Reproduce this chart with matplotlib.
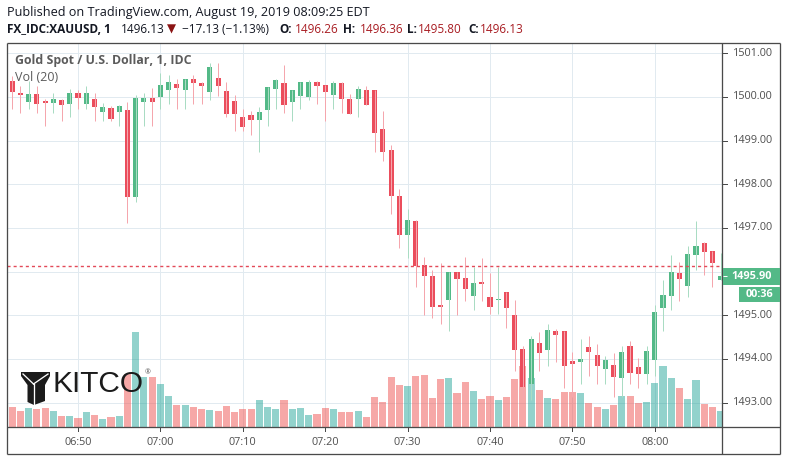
import matplotlib
matplotlib.use("Agg")
import matplotlib.pyplot as plt
from matplotlib.patches import Rectangle, Polygon
from matplotlib.lines import Line2D
from matplotlib.transforms import blended_transform_factory

# ---------------- data (1-minute bars, 06:42 .. 08:08) ----------------
opens = [1500.37, 1500.10, 1499.89, 1500.07, 1499.91, 1499.87, 1499.93, 1499.85, 1500.09, 1499.85,
         1499.95, 1499.66, 1499.75, 1499.66, 1499.70, 1497.72, 1499.89, 1499.98, 1500.01, 1500.15,
         1500.30, 1500.17, 1500.41, 1500.32, 1500.12, 1500.43, 1500.14, 1499.91, 1499.54, 1499.59,
         1499.48, 1499.71, 1500.19, 1500.32, 1499.89, 1500.03, 1500.01, 1500.34, 1500.27, 1500.05,
         1500.32, 1499.95, 1499.96, 1500.16, 1500.16, 1499.27, 1498.79, 1497.73, 1496.85, 1497.16,
         1496.15, 1495.90, 1495.24, 1495.36, 1496.00, 1495.86, 1495.45, 1495.77, 1495.42, 1495.34,
         1495.54, 1495.01, 1494.23, 1493.42, 1494.37, 1494.20, 1494.65, 1494.65, 1493.96, 1493.92,
         1494.28, 1494.10, 1493.76, 1493.87, 1493.56, 1494.30, 1493.82, 1493.65, 1493.97, 1495.16,
         1495.45, 1495.97, 1495.68, 1496.39, 1496.66, 1496.48, 1495.80]
highs = [1500.48, 1500.25, 1500.37, 1500.25, 1499.95, 1500.10, 1499.95, 1500.18, 1500.16, 1500.25,
         1500.09, 1499.86, 1499.80, 1499.82, 1499.89, 1500.05, 1500.09, 1500.21, 1500.55, 1500.50,
         1500.41, 1500.41, 1500.50, 1500.34, 1500.78, 1500.78, 1500.34, 1500.05, 1499.73, 1499.68,
         1499.77, 1500.23, 1500.41, 1500.73, 1500.16, 1500.34, 1500.39, 1500.37, 1500.27, 1500.37,
         1500.34, 1500.07, 1500.25, 1500.25, 1500.16, 1499.68, 1498.90, 1497.89, 1497.44, 1497.19,
         1496.34, 1496.03, 1496.20, 1496.00, 1496.00, 1496.34, 1496.11, 1496.32, 1495.96, 1496.11,
         1495.54, 1495.34, 1494.29, 1494.52, 1494.62, 1494.81, 1494.69, 1494.65, 1494.17, 1494.46,
         1494.53, 1494.35, 1494.07, 1494.14, 1494.30, 1494.42, 1494.03, 1494.30, 1495.24, 1495.81,
         1496.38, 1496.22, 1496.59, 1497.16, 1496.68, 1496.48, 1496.43]
lows = [1499.73, 1499.64, 1499.73, 1499.64, 1499.34, 1499.64, 1499.44, 1499.53, 1499.73, 1499.73,
        1499.44, 1499.44, 1499.44, 1499.34, 1497.12, 1497.60, 1499.34, 1499.34, 1499.73, 1499.85,
        1499.73, 1499.73, 1499.85, 1499.85, 1499.94, 1500.03, 1499.53, 1499.23, 1499.23, 1499.14,
        1498.73, 1499.34, 1499.73, 1499.64, 1499.44, 1499.73, 1499.94, 1499.85, 1499.44, 1499.73,
        1499.64, 1499.62, 1499.53, 1499.82, 1498.73, 1498.54, 1497.33, 1496.53, 1496.32, 1495.64,
        1495.01, 1494.93, 1494.81, 1494.63, 1495.01, 1495.32, 1495.13, 1495.32, 1495.02, 1495.02,
        1494.72, 1493.72, 1493.11, 1493.07, 1493.72, 1493.83, 1493.92, 1493.33, 1493.14, 1493.42,
        1493.62, 1493.42, 1493.42, 1493.14, 1493.14, 1493.42, 1493.33, 1493.42, 1493.62, 1494.63,
        1495.13, 1495.32, 1495.43, 1496.03, 1495.93, 1495.64, 1495.80]
closes = [1500.12, 1500.05, 1500.07, 1499.85, 1499.87, 1499.95, 1499.82, 1500.09, 1499.98, 1500.09,
          1499.76, 1499.77, 1499.50, 1499.79, 1497.70, 1499.98, 1499.98, 1499.89, 1500.27, 1500.34,
          1500.21, 1500.41, 1500.33, 1500.24, 1500.69, 1500.24, 1499.62, 1499.60, 1499.32, 1499.48,
          1499.66, 1500.23, 1500.39, 1499.82, 1500.16, 1500.34, 1500.34, 1500.24, 1500.12, 1500.32,
          1499.96, 1499.62, 1500.18, 1499.82, 1499.18, 1498.73, 1497.74, 1496.83, 1497.19, 1496.12,
          1495.91, 1495.20, 1495.20, 1496.00, 1495.82, 1495.61, 1495.74, 1495.71, 1495.20, 1495.38,
          1495.16, 1494.20, 1493.35, 1494.46, 1494.13, 1494.67, 1494.55, 1493.85, 1493.88, 1494.01,
          1494.15, 1493.83, 1493.98, 1493.58, 1494.17, 1493.67, 1493.65, 1494.19, 1495.08, 1495.47,
          1496.00, 1495.82, 1496.41, 1496.59, 1496.44, 1496.19, 1495.90]
volumes = [61, 49, 58, 55, 58, 49, 34, 34, 28, 46,
           37, 25, 31, 34, 160, 286, 151, 151, 130, 94,
           67, 67, 61, 55, 52, 49, 64, 46, 55, 55,
           82, 61, 55, 82, 55, 58, 37, 40, 58, 55,
           46, 46, 49, 31, 91, 76, 151, 127, 124, 154,
           157, 88, 145, 148, 103, 136, 109, 85, 94, 82,
           91, 145, 184, 148, 112, 88, 85, 106, 106, 103,
           73, 61, 55, 67, 94, 94, 73, 76, 133, 184,
           148, 118, 85, 142, 70, 61, 49]

xtick_idx = [8, 18, 28, 38, 48, 58, 68, 78]
xtick_labels = ["06:50", "07:00", "07:10", "07:20", "07:30", "07:40", "07:50", "08:00"]
ytick_vals = [1493, 1494, 1495, 1496, 1497, 1498, 1499, 1500, 1501]
last_price = 1495.90
price_line = 1496.13
countdown = "00:36"

title_line = "Published on TradingView.com, August 19, 2019 08:09:25 EDT"
symbol_text = "FX_IDC:XAUUSD, 1"
last_text = "1496.13"
change_text = "\u221217.13 (\u22121.13%)"
ohlc_labels = ["O:", "H:", "L:", "C:"]
ohlc_values = ["1496.26", "1496.36", "1495.80", "1496.13"]
legend_main = "Gold Spot / U.S. Dollar, 1, IDC"
legend_vol = "Vol (20)"

# ---------------- style ----------------
UP = "#53b987"
DOWN = "#eb4d5c"
UP_WICK = "#a9dcc3"
DOWN_WICK = "#f5a6ad"
VOL_UP = (38/255, 166/255, 154/255, 0.5)
VOL_DOWN = (239/255, 83/255, 80/255, 0.5)
GRID = "#e1eaf0"
FRAME = "#4a4a4a"
TXT = "#4f4f4f"
HDR_RED = "#a81c22"
FONT = ["Open Sans", "DejaVu Sans"]
plt.rcParams["font.family"] = FONT

W, H = 786, 461
fig = plt.figure(figsize=(W / 100, H / 100), dpi=100)
fig.patch.set_facecolor("white")

def fx(x):
    return x / W

def fy(y):
    return 1 - y / H

L, R, T, B = 7, 722, 43, 427
pos = [fx(L), fy(B), (R - L) / W, (B - T) / H]
XLIM = (-0.62, 86.16)
YLIM = (1492.442, 1501.236)
VLIM = (0, 1152)

gax = fig.add_axes(pos, zorder=1)
vax = fig.add_axes(pos, zorder=2)
ax = fig.add_axes(pos, zorder=3)
for a in (gax, vax, ax):
    a.set_xlim(*XLIM)
    a.set_axis_off()
gax.set_ylim(*YLIM)
ax.set_ylim(*YLIM)
vax.set_ylim(*VLIM)

# grid
px = 0.72
gax.hlines(ytick_vals, XLIM[0], XLIM[1], colors=GRID, linewidth=1 * px)
gax.vlines(xtick_idx, YLIM[0], YLIM[1], colors=GRID, linewidth=1 * px)

n = len(opens)
idx = list(range(n))
up = [c >= o for o, c in zip(opens, closes)]

# volume
vax.bar(idx, volumes, width=0.86, color=[VOL_UP if u else VOL_DOWN for u in up], linewidth=0)

# candles
min_body = (YLIM[1] - YLIM[0]) / (B - T) * 1.0
ax.vlines(idx, lows, highs, colors=[UP_WICK if u else DOWN_WICK for u in up], linewidth=1.0 * px)
bottoms = [min(o, c) for o, c in zip(opens, closes)]
heights = [max(abs(c - o), min_body) for o, c in zip(opens, closes)]
ax.bar(idx, heights, bottom=bottoms, width=0.62, color=[UP if u else DOWN for u in up], linewidth=0)

# dotted price line
ax.hlines(price_line, XLIM[0], XLIM[1], colors="#e34a59", linestyles=(0, (2.2, 2.2)), linewidth=1.0)

# y tick labels on right (labels hidden where the last-price box covers them)
btr = blended_transform_factory(ax.transAxes, ax.transData)
for v in ytick_vals:
    ax.add_line(Line2D([1.0, 1.0 + 5 / (R - L)], [v, v], transform=btr, color=FRAME,
                       linewidth=1 * px, clip_on=False))
    if abs(v - last_price) < 0.45:
        continue
    ax.annotate(f"{v:.2f}", xy=(1.0, v), xycoords=("axes fraction", "data"),
                xytext=(10.5, 0), textcoords="offset pixels", ha="left", va="center",
                fontsize=7.8, color=TXT, annotation_clip=False)

# x tick labels
for i, lab in zip(xtick_idx, xtick_labels):
    ax.annotate(lab, xy=(i, 0), xycoords=("data", "axes fraction"),
                xytext=(0, -15), textcoords="offset pixels", ha="center", va="center",
                fontsize=7.8, color=TXT, annotation_clip=False)
btx = blended_transform_factory(ax.transData, ax.transAxes)
for i in xtick_idx:
    ax.add_line(Line2D([i, i], [0, -4 / (B - T)], transform=btx, color=FRAME,
                       linewidth=1 * px, clip_on=False))

# frame lines
def fline(x1, y1, x2, y2, lw=1.3, color=FRAME, z=10):
    fig.add_artist(Line2D([fx(x1), fx(x2)], [fy(y1), fy(y2)], transform=fig.transFigure,
                          color=color, linewidth=lw * px, solid_capstyle="butt", zorder=z))

fline(7, 43, 779.5, 43)
fline(7, 43, 7, 454)
fline(722, 43, 722, 454)
fline(779.5, 43, 779.5, 454)
fline(7, 427, 779.5, 427)
fline(7, 454, 779.5, 454)

# last price label boxes
def frect(x1, y1, x2, y2, color):
    fig.add_artist(Rectangle((fx(x1), fy(y2)), fx(x2) - fx(x1), fy(y1) - fy(y2),
                             transform=fig.transFigure, facecolor=color, edgecolor="none",
                             zorder=11))

ly = B - (last_price - YLIM[0]) / (YLIM[1] - YLIM[0]) * (B - T)
frect(722.5, ly - 8.5, 780, ly + 8.5, UP)
fline(722.5, ly, 727, ly, lw=1, color="white", z=12)
fig.text(fx(752), fy(ly), f"{last_price:.2f}", ha="center", va="center", fontsize=7.8,
         color="white", fontweight="bold", zorder=12)
frect(739, ly + 10.5, 780, ly + 26, UP)
fig.text(fx(759.5), fy(ly + 18.3), countdown, ha="center", va="center", fontsize=7.8,
         color="white", fontweight="bold", zorder=12)

# header
HS = 8.5
fig.text(fx(7), fy(12.5), title_line, ha="left", va="center", fontsize=9.1, color="#131722")
yh = fy(29.5)
fig.text(fx(7), yh, symbol_text, ha="left", va="center", fontsize=HS, color="#131722",
         fontweight="bold")
fig.text(fx(120.5), yh, last_text, ha="left", va="center", fontsize=HS, color="#131722")
fig.text(fx(166.5), yh, "\u25bc", ha="left", va="center", fontsize=HS, color="#8b1414",
         family=["DejaVu Sans"])
fig.text(fx(181.5), yh, change_text, ha="left", va="center", fontsize=HS, color="#131722")
lab_x = [279.3, 343.3, 407.3, 468.3]
val_x = [295.0, 359.5, 418.3, 480.0]
for lab, val, lx, vx in zip(ohlc_labels, ohlc_values, lab_x, val_x):
    fig.text(fx(lx), yh, lab, ha="left", va="center", fontsize=HS, color="#131722",
             fontweight="bold")
    fig.text(fx(vx), yh, val, ha="left", va="center", fontsize=HS, color=HDR_RED)

# legend inside chart
fig.text(fx(15), fy(60.5), legend_main, ha="left", va="center", fontsize=8.9,
         color="#5b5b5b", fontweight="bold")
fig.text(fx(15), fy(77.5), legend_vol, ha="left", va="center", fontsize=9.0, color="#5b5b5b")

# KITCO logo
icon = [(21, 372), (50, 372), (50, 376), (45, 385), (45, 401), (34, 405), (27.5, 402),
        (27.5, 385), (21, 376)]
fig.add_artist(Polygon([(fx(x), fy(y)) for x, y in icon], closed=True,
                       transform=fig.transFigure, facecolor="#1b1b1b", edgecolor="none",
                       zorder=5))
for seg in ([(23, 374), (33.5, 384)], [(33.5, 384), (48, 374)], [(33.5, 384), (33.5, 404)]):
    fig.add_artist(Line2D([fx(seg[0][0]), fx(seg[1][0])], [fy(seg[0][1]), fy(seg[1][1])],
                          transform=fig.transFigure, color="white", linewidth=1.3 * px,
                          zorder=6))
fig.text(fx(52.5), fy(391.7), "KITCO", ha="left", va="baseline", fontsize=21.5,
         color="#1b1b1b", family=["Liberation Sans"], zorder=6)
fig.text(fx(145), fy(373), "\u00ae", ha="left", va="center", fontsize=5, color="#555555",
         zorder=6)

fig.savefig("out.png", dpi=100, facecolor="white")
